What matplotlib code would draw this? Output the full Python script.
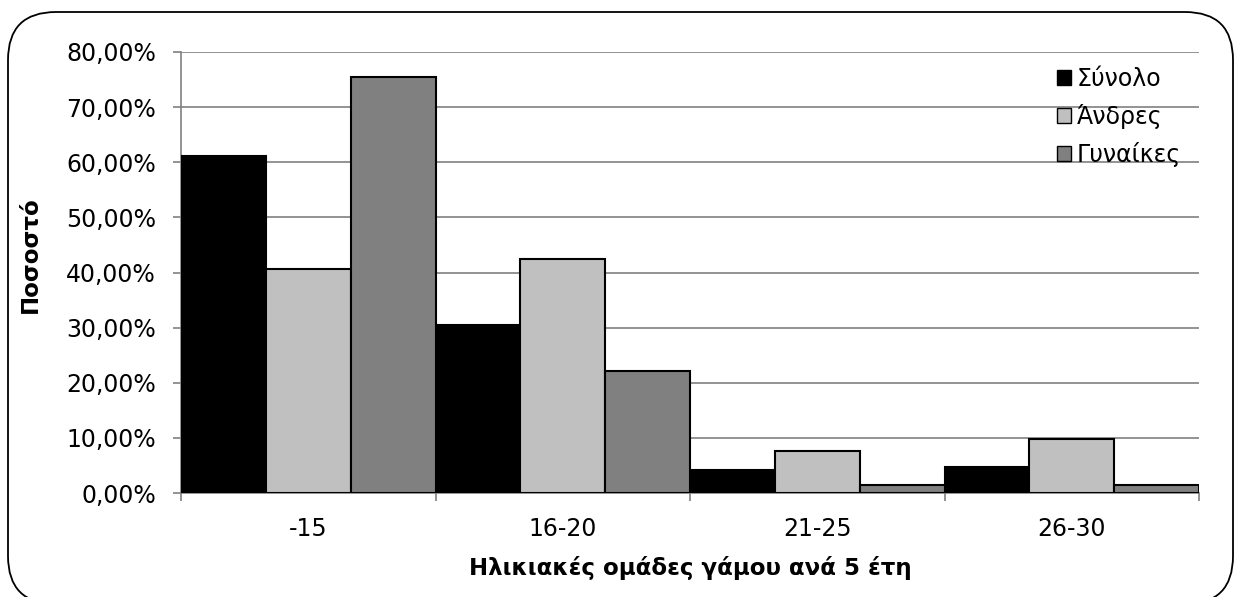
import matplotlib
matplotlib.use("Agg")
import matplotlib.pyplot as plt
import numpy as np
from matplotlib.patches import FancyBboxPatch
from matplotlib.ticker import FuncFormatter, FixedLocator

# ====== DATA ======
categories = ["-15", "16-20", "21-25", "26-30"]
series_names = ["Σύνολο", "Άνδρες", "Γυναίκες"]
synolo = [61.2, 30.4, 4.1, 4.8]
andres = [40.6, 42.4, 7.6, 9.8]
gynaikes = [75.4, 22.1, 1.4, 1.5]
series_values = [synolo, andres, gynaikes]
colors = ["#000000", "#c0c0c0", "#808080"]

W, H = 1239, 597
FS = 17

fig = plt.figure(figsize=(W / 100, H / 100), dpi=100)

# ====== ROUNDED OUTER BORDER ======
bg = fig.add_axes([0, 0, 1, 1])
bg.set_xlim(0, W)
bg.set_ylim(H, 0)
bg.axis("off")
bg.add_patch(FancyBboxPatch((8, 12), 1225, 592,
                            boxstyle="round,pad=0,rounding_size=48",
                            facecolor="white", edgecolor="black", linewidth=1.3))

# ====== CHART ======
x0, x1, y_top, y_bot = 181, 1199, 52, 493
ax = fig.add_axes([x0 / W, (H - y_bot) / H, (x1 - x0) / W, (y_bot - y_top) / H])
ax.patch.set_alpha(0)

x = np.arange(len(categories))
w = 1 / 3
for i, (name, vals) in enumerate(zip(series_names, series_values)):
    ax.bar(x + (i - 1) * w, np.array(vals) / 100, width=w, color=colors[i],
           edgecolor="black", linewidth=1.5, label=name, zorder=3)

ax.set_xlim(-0.5, len(categories) - 0.5)
ax.set_ylim(0, 0.8)
ax.set_yticks(np.arange(0, 0.81, 0.1))
ax.yaxis.set_major_formatter(FuncFormatter(lambda v, p: f"{v * 100:.2f}%".replace(".", ",")))
ax.yaxis.grid(True, color="#808080", linewidth=1.2, zorder=0)

ax.set_xticks(x)
ax.set_xticklabels(categories)
ax.xaxis.set_minor_locator(FixedLocator(np.arange(-0.5, len(categories), 1)))
ax.tick_params(axis="x", which="major", length=0, pad=17, labelsize=FS)
ax.tick_params(axis="x", which="minor", length=6, width=1.2, color="#808080", direction="out")
ax.tick_params(axis="y", length=6, width=1.2, color="#808080", pad=12, labelsize=FS)

for s in ["top", "right"]:
    ax.spines[s].set_visible(False)
for s in ["left", "bottom"]:
    ax.spines[s].set_color("#808080")
    ax.spines[s].set_linewidth(1.2)

fig.text(690 / W, 1 - 568 / H, "Ηλικιακές ομάδες γάμου ανά 5 έτη",
         fontsize=16.5, fontweight="bold", ha="center", va="center")
fig.text(30 / W, 1 - 255 / H, "Ποσοστό", fontsize=16.5, fontweight="bold",
         rotation=90, ha="center", va="center")

leg = ax.legend(loc="upper left", bbox_to_anchor=(1045 / W, 1 - 55 / H),
                bbox_transform=fig.transFigure, frameon=False, fontsize=FS,
                handlelength=0.6, handleheight=0.6, handletextpad=0.25,
                labelspacing=0.55, borderpad=0)
for h in leg.legend_handles:
    h.set_linewidth(1.0)

fig.savefig("out.png", dpi=100)
